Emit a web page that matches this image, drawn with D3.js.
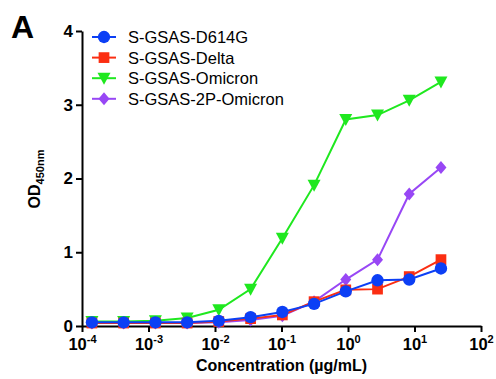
<!DOCTYPE html>
<html>
<head>
<meta charset="utf-8">
<script src="https://cdn.jsdelivr.net/npm/d3@7"></script>
<style>
  body { margin: 0; background: #fff; }
  svg { font-family: Arial, "Liberation Sans", sans-serif; }
</style>
</head>
<body>
<div class="chart"></div>
<script>
// concentrations (µg/mL), 3-fold dilution series
let conc = [25, 8.33, 2.78, 0.926, 0.309, 0.103, 0.0343, 0.0114, 0.00381, 0.00127, 0.000423, 0.000141]

let names = ['S-GSAS-D614G', 'S-GSAS-Delta', 'S-GSAS-Omicron', 'S-GSAS-2P-Omicron']
let colors = ['#0c3ff5', '#fb2e12', '#1fe81f', '#9847f5']
let shapes = ['circle', 'square', 'triangle', 'diamond']

let d614g = [0.78, 0.63, 0.62, 0.47, 0.30, 0.19, 0.12, 0.07, 0.05, 0.05, 0.05, 0.05]
let delta = [0.90, 0.67, 0.50, 0.49, 0.33, 0.15, 0.10, 0.06, 0.04, 0.04, 0.04, 0.04]
let omicron = [3.31, 3.06, 2.86, 2.80, 1.91, 1.19, 0.50, 0.22, 0.11, 0.07, 0.06, 0.06]
let omicron2p = [2.15, 1.79, 0.90, 0.63, 0.33, 0.14, 0.08, 0.05, 0.04, 0.04, 0.04, 0.04]

let yTicks = [0, 1, 2, 3, 4]
let xTicks = [-4, -3, -2, -1, 0, 1, 2]

let series = [d614g, delta, omicron, omicron2p].map((vals, i) => ({
    name: names[i], color: colors[i], shape: shapes[i],
    points: vals.map((v, j) => ({ x: conc[j], y: v }))
}))

var margin = { top: 31, right: 15, bottom: 53, left: 82 };
var width = 496 - margin.left - margin.right;
var height = 379 - margin.top - margin.bottom;

let root = d3.select('.chart')
    .append('svg')
    .attr('width', 496)
    .attr('height', 379)

let svg = root.append('g')
    .attr('transform', `translate(${margin.left},${margin.top})`)

var xScale = d3.scaleLog().domain([1e-4, 1e2]).range([0, 399])
var yScale = d3.scaleLinear().domain([0, 4]).range([height, 0])

// axes
let yAxis = svg.append('g')
    .call(d3.axisLeft(yScale).tickValues(yTicks).tickFormat(d3.format('d')).tickSize(6).tickSizeOuter(0).tickPadding(3))
let xAxis = svg.append('g')
    .attr('transform', `translate(0, ${height})`)
    .call(d3.axisBottom(xScale).tickValues(xTicks.map(e => Math.pow(10, e))).tickFormat('').tickSize(6).tickSizeOuter(0))

;[xAxis, yAxis].forEach(a => {
    a.select('.domain').attr('stroke', '#000').attr('stroke-width', 2)
    a.selectAll('.tick line').attr('stroke', '#000').attr('stroke-width', 2)
})
yAxis.selectAll('.tick text')
    .attr('font-size', 17).attr('font-weight', 'bold').attr('fill', '#000')
    .attr('font-family', 'Arial, "Liberation Sans", sans-serif')

// x tick labels: 10^n
xAxis.selectAll('.tick').each(function (d) {
    let t = d3.select(this).append('text')
        .attr('y', 24).attr('text-anchor', 'middle')
        .attr('font-size', 16.5).attr('font-weight', 'bold').attr('fill', '#000')
        .attr('font-family', 'Arial, "Liberation Sans", sans-serif')
    t.append('tspan').text('10')
    t.append('tspan').attr('font-size', 11).attr('dy', -7).text(Math.round(Math.log10(d)))
})

// symbols
function symbolPath(shape) {
    if (shape === 'circle') return d3.symbol(d3.symbolCircle, 120)()
    if (shape === 'square') return d3.symbol(d3.symbolSquare, 115)()
    if (shape === 'diamond') return 'M0,-6.5L5.5,0L0,6.5L-5.5,0Z'
    return 'M-6.5,-5.5L6.5,-5.5L0,6.5Z'
}

var line = d3.line().x(d => xScale(d.x)).y(d => yScale(d.y))

// draw back to front so D614G ends on top
series.slice().reverse().forEach(s => {
    let g = svg.append('g')
    g.append('path')
        .datum(s.points)
        .attr('d', line)
        .attr('fill', 'none')
        .attr('stroke', s.color)
        .attr('stroke-width', 2)
    g.selectAll('path.pt')
        .data(s.points)
        .enter()
        .append('path')
        .attr('class', 'pt')
        .attr('transform', d => `translate(${xScale(d.x)},${yScale(d.y)})`)
        .attr('d', symbolPath(s.shape))
        .attr('fill', s.color)
})

// legend
let legend = root.append('g').attr('transform', 'translate(92,37)')
series.forEach((s, i) => {
    let row = legend.append('g').attr('transform', `translate(0, ${i * 20.6})`)
    row.append('line').attr('x1', 0).attr('x2', 24).attr('stroke', s.color).attr('stroke-width', 2)
    row.append('path').attr('transform', 'translate(12,0)').attr('d', symbolPath(s.shape)).attr('fill', s.color)
    row.append('text').attr('x', 36).attr('y', 6)
        .attr('font-size', 16.5).attr('fill', '#000')
        .text(s.name)
})

// axis titles
root.append('text')
    .attr('x', margin.left + 199.5).attr('y', 371)
    .attr('text-anchor', 'middle')
    .attr('font-size', 16).attr('font-weight', 'bold')
    .text('Concentration (µg/mL)')

let yl = root.append('text')
    .attr('transform', 'translate(40,179) rotate(-90)')
    .attr('text-anchor', 'middle')
    .attr('font-size', 16).attr('font-weight', 'bold')
yl.append('tspan').text('OD')
yl.append('tspan').attr('font-size', 11).attr('dy', 4).text('450nm')

// panel letter
root.append('text')
    .attr('x', 11).attr('y', 38)
    .attr('font-size', 32).attr('font-weight', 'bold')
    .text('A')
</script>
</body>
</html>
